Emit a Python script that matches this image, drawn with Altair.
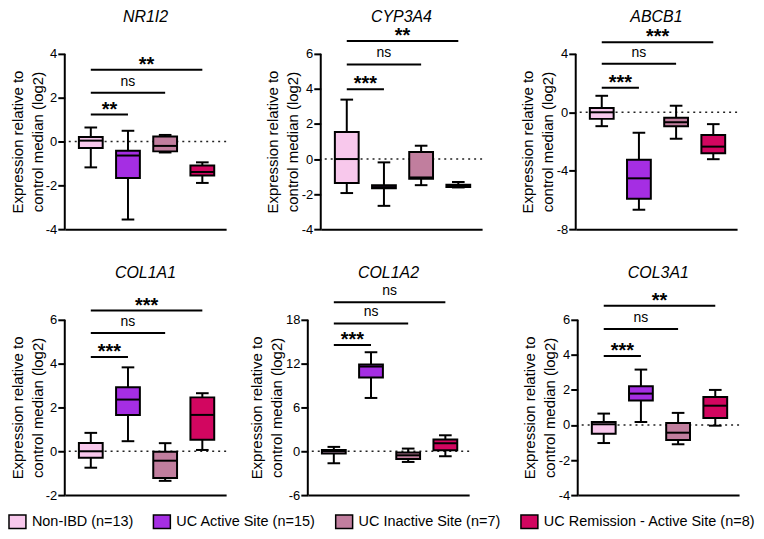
import altair as alt
import pandas as pd

# ---------------- data ----------------
groups = ["Non-IBD (n=13)", "UC Active Site (n=15)", "UC Inactive Site (n=7)",
          "UC Remission - Active Site (n=8)"]
colors = ["#F8C8EC", "#A52EE3", "#C17E9E", "#D20660"]
genes = ["NR1I2", "CYP3A4", "ABCB1", "COL1A1", "COL1A2", "COL3A1"]

whisker_low = {
    "NR1I2": [-1.18, -3.56, -0.50, -1.89],
    "CYP3A4": [-1.94, -2.67, -1.49, -1.62],
    "ABCB1": [-0.95, -6.67, -1.81, -3.21],
    "COL1A1": [-0.75, 0.46, -1.35, 0.06],
    "COL1A2": [-1.64, 7.30, -1.46, -0.68],
    "COL3A1": [-1.03, 0.17, -1.10, -0.04],
}
quart1 = {
    "NR1I2": [-0.30, -1.66, -0.45, -1.55],
    "CYP3A4": [-1.37, -1.66, -1.12, -1.60],
    "ABCB1": [-0.45, -5.92, -0.95, -2.80],
    "COL1A1": [-0.30, 1.66, -1.22, 0.53],
    "COL1A2": [-0.32, 10.10, -1.05, 0.14],
    "COL3A1": [-0.50, 1.39, -0.86, 0.40],
}
medians = {
    "NR1I2": [0.04, -0.64, -0.20, -1.39],
    "CYP3A4": [0.00, -1.60, -1.05, -1.52],
    "ABCB1": [0.00, -4.52, -0.68, -2.35],
    "COL1A1": [0.00, 2.36, -0.43, 1.66],
    "COL1A2": [0.00, 11.60, -0.55, 1.10],
    "COL3A1": [0.04, 1.79, -0.44, 1.10],
}
quart3 = {
    "NR1I2": [0.21, -0.42, 0.23, -1.09],
    "CYP3A4": [1.54, -1.50, 0.40, -1.47],
    "ABCB1": [0.29, -3.25, -0.38, -1.56],
    "COL1A1": [0.38, 2.92, -0.02, 2.46],
    "COL1A2": [0.18, 11.87, -0.18, 1.60],
    "COL3A1": [0.17, 2.21, 0.11, 1.60],
}
whisker_high = {
    "NR1I2": [0.64, 0.49, 0.30, -0.95],
    "CYP3A4": [3.39, -0.19, 0.76, -1.31],
    "ABCB1": [1.13, -1.40, 0.45, -0.81],
    "COL1A1": [0.84, 3.83, 0.37, 2.65],
    "COL1A2": [0.60, 13.56, 0.37, 2.19],
    "COL3A1": [0.65, 3.16, 0.69, 2.00],
}
y_domain = {"NR1I2": [-4, 4], "CYP3A4": [-4, 6], "ABCB1": [-8, 4],
            "COL1A1": [-2, 6], "COL1A2": [-6, 18], "COL3A1": [-4, 6]}
y_ticks = {"NR1I2": [-4, -2, 0, 2, 4], "CYP3A4": [-4, -2, 0, 2, 4, 6],
           "ABCB1": [-8, -4, 0, 4], "COL1A1": [-2, 0, 2, 4, 6],
           "COL1A2": [-6, 0, 6, 12, 18], "COL3A1": [-4, -2, 0, 2, 4, 6]}
# comparisons: Non-IBD vs group 2, 3, 4
comp_from = [1, 1, 1]
comp_to = [2, 3, 4]
sig_labels = {"NR1I2": ["**", "ns", "**"], "CYP3A4": ["***", "ns", "**"],
              "ABCB1": ["***", "ns", "***"], "COL1A1": ["***", "ns", "***"],
              "COL1A2": ["***", "ns", "ns"], "COL3A1": ["***", "ns", "**"]}
sig_y = {"NR1I2": [1.23, 2.23, 3.27], "CYP3A4": [3.98, 5.40, 6.74],
         "ABCB1": [1.68, 3.32, 4.80], "COL1A1": [4.30, 5.40, 6.42],
         "COL1A2": [14.56, 17.50, 20.40], "COL3A1": [3.93, 5.47, 6.80]}

# ---------------- layout / style ----------------
FONT = "Liberation Sans"
W = 162
SPAN = 176          # pixel height between lowest and highest tick
EXTRA = [45, 55]    # room above the top tick (brackets + gene name), per row
TITLE_X = [-39, -40, -40, -39, -43, -40]

xs = alt.Scale(domain=[0.3, 4.64], nice=False, zero=False)
xaxis = alt.Axis(labels=False, ticks=False, title=None, grid=False,
                 domainWidth=2, domainColor="black")

legend = alt.Legend(orient="none", legendX=-57, legendY=505, direction="horizontal",
                    title=None, labelFontSize=14.5, labelFont=FONT, labelColor="black",
                    symbolType="M-1,-0.8H1V0.8H-1Z", symbolSize=289,
                    symbolStrokeColor="black", symbolStrokeWidth=1.5, symbolOpacity=1,
                    columnPadding=17, labelOffset=5, labelLimit=400, padding=0)


def panel(k):
    gene = genes[k]
    extra = EXTRA[0] if k < 3 else EXTRA[1]
    ymin, ymax = y_domain[gene]
    ytop = ymax + (ymax - ymin) * extra / SPAN
    ys = alt.Scale(domain=[ymin, ytop], nice=False, zero=False)
    yaxis = alt.Axis(values=y_ticks[gene], domain=False, grid=False,
                     title=["Expression relative to", "control median (log2)"],
                     tickSize=7, tickWidth=2, tickColor="black",
                     labelFontSize=13, labelColor="black", labelPadding=1,
                     labelExpr="'' + datum.value", labelFont=FONT,
                     titleFontSize=15, titleFontWeight="normal", titleColor="black",
                     titleLineHeight=20, titleFont=FONT,
                     titleX=TITLE_X[k], titleY=extra + SPAN / 2)

    def X(f):
        return alt.X(f, type="quantitative", scale=xs, axis=xaxis)

    def Y(f):
        return alt.Y(f, type="quantitative", scale=ys, axis=yaxis)

    box = pd.DataFrame({"group": groups, "pos": [1, 2, 3, 4],
                        "lo": whisker_low[gene], "q1": quart1[gene], "med": medians[gene],
                        "q3": quart3[gene], "hi": whisker_high[gene]})
    sig = pd.DataFrame({"a": comp_from, "b": comp_to, "y": sig_y[gene],
                        "label": sig_labels[gene]})

    zero = alt.Chart(pd.DataFrame({"z": [0]})).mark_rule(
        strokeDash=[2, 4], strokeWidth=1.5, color="#222222").encode(y=Y("z"))
    yline = alt.Chart(pd.DataFrame({"a": [ymin], "b": [ymax]})).mark_rule(
        strokeWidth=2, color="black").encode(x=alt.value(0), y=Y("a"), y2="b:Q")

    base = alt.Chart(box)
    whisk = base.mark_rule(strokeWidth=2, color="black").encode(
        x=X("pos"), y=Y("lo"), y2="hi:Q")
    capped = base.transform_calculate(l="datum.pos - 0.17", r="datum.pos + 0.17")
    cap_lo = capped.mark_rule(strokeWidth=2, color="black").encode(
        x=X("l"), x2="r:Q", y=Y("lo"))
    cap_hi = capped.mark_rule(strokeWidth=2, color="black").encode(
        x=X("l"), x2="r:Q", y=Y("hi"))
    wide = base.transform_calculate(l="datum.pos - 0.32", r="datum.pos + 0.32")
    boxes = wide.mark_bar(stroke="black", strokeWidth=2, opacity=1).encode(
        x=X("l"), x2="r:Q", y=Y("q1"), y2="q3:Q",
        color=alt.Color("group:N", scale=alt.Scale(domain=groups, range=colors),
                        legend=legend))
    med = wide.mark_rule(strokeWidth=2, color="black").encode(
        x=X("l"), x2="r:Q", y=Y("med"))

    sbase = alt.Chart(sig)
    brackets = sbase.mark_rule(strokeWidth=2, color="black").encode(
        x=X("a"), x2="b:Q", y=Y("y"))
    mid = sbase.transform_calculate(m="(datum.a + datum.b) / 2")
    stars = mid.transform_filter("datum.label != 'ns'").mark_text(
        fontSize=20, fontWeight="bold", baseline="alphabetic", dy=1,
        color="black", font=FONT).encode(x=X("m"), y=Y("y"), text="label:N")
    ns = mid.transform_filter("datum.label == 'ns'").mark_text(
        fontSize=14, baseline="alphabetic", dy=-7, color="black",
        font=FONT).encode(x=X("m"), y=Y("y"), text="label:N")

    head = alt.Chart(pd.DataFrame({"name": [gene]})).mark_text(
        fontSize=16, fontStyle="italic", baseline="middle", align="center",
        color="black", font=FONT).encode(
        text="name:N", x=alt.value(W / 2), y=alt.value(8))

    return alt.layer(zero, yline, whisk, cap_lo, cap_hi, boxes, med,
                     brackets, stars, ns, head).properties(
        width=W, height=SPAN + extra)


p = [panel(k) for k in range(6)]

row1 = alt.hconcat(alt.hconcat(p[0], p[1], spacing=39), p[2], spacing=38)
row2 = alt.hconcat(alt.hconcat(p[3], p[4], spacing=23), p[5], spacing=53)

chart = alt.vconcat(row1, row2, spacing=29).properties(
    padding={"left": 0, "top": 0, "right": 0, "bottom": 0}
).configure(font=FONT).configure_view(strokeWidth=0)

chart.save("out.html", embed_options={"renderer": "svg", "actions": False})
